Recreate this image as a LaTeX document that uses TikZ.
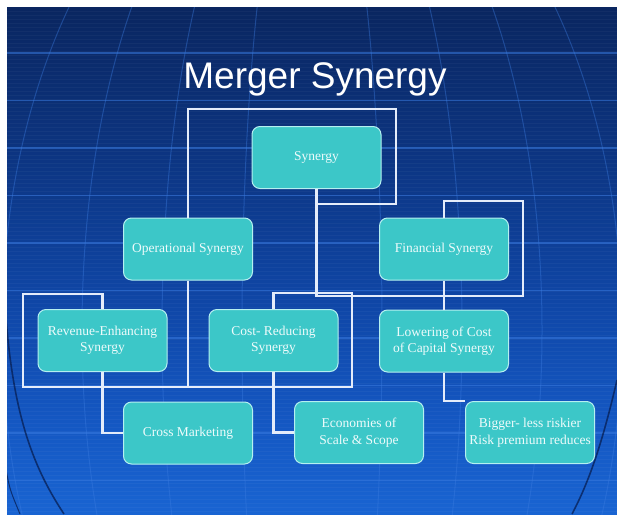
\documentclass[tikz,border=0pt]{standalone}
\usepackage{fontspec}
\setmainfont{Liberation Serif}
\newfontfamily\titlefont{Liberation Sans}

\definecolor{bgA}{HTML}{0A2660}
\definecolor{bgB}{HTML}{0C3480}
\definecolor{bgC}{HTML}{0F46A6}
\definecolor{bgD}{HTML}{1457C2}
\definecolor{bgE}{HTML}{1964D2}
\definecolor{gridcol}{HTML}{3A7BE0}
\definecolor{arccol}{HTML}{08225A}
\definecolor{boxfill}{HTML}{3CC7C8}
\definecolor{boxline}{HTML}{B5F0F0}
\definecolor{boxtext}{HTML}{EEFBFB}
\definecolor{linecol}{HTML}{E4ECFA}

% top of the backdrop at 75bp, bottom at 25bp
\pgfdeclareverticalshading{backdrop}{100bp}{%
  color(0bp)=(bgE); color(25bp)=(bgE); color(34.3bp)=(bgD);
  color(46.1bp)=(bgC); color(60.9bp)=(bgB); color(75bp)=(bgA); color(100bp)=(bgA)}

\tikzset{
  box/.style={draw=boxline, line width=1pt, fill=boxfill, rounded corners=8pt,
    minimum width=129pt, minimum height=62pt, inner sep=2pt, align=center,
    text=boxtext, font=\fontsize{13.5}{16.5}\selectfont},
  conn/.style={draw=linecol, line width=2.2pt},
  gridline/.style={draw=gridcol, line width=1.6pt, opacity=0.55},
  meridian/.style={draw=gridcol, line width=1pt, opacity=0.4},
  globearc/.style={draw=arccol, line width=1.6pt, opacity=0.8},
  titletext/.style={font=\titlefont\fontsize{37}{40}\selectfont, anchor=base, text=white},
}

\begin{document}
\begin{tikzpicture}[x=1pt,y=-1pt]
\useasboundingbox (0,0) rectangle (617,514);
\fill[white] (0,0) rectangle (617,514);

% backdrop: blue globe with grid
\begin{scope}
  \clip (7,7) rectangle (617,514);
  \shade[shading=backdrop] (7,7) rectangle (617,514);
  \foreach \y in {11,15,...,514}
    \draw[white, opacity=0.035, line width=0.8pt] (7,\y) -- (617,\y);
  \foreach \k in {0,...,9}
    \draw[gridline] (7,{53+47.5*\k}) -- (617,{53+47.5*\k});
  \foreach \a in {70,150,230,310,390,470,550}
    \draw[meridian] (312,330) ellipse [x radius=\a, y radius=520];
  \draw[globearc] (6,318) .. controls (14,420) and (35,470) .. (64,514);
  \draw[globearc, line width=1pt] (6,470) .. controls (10,490) .. (20,514);
  \draw[globearc] (617,380) .. controls (603,440) and (590,480) .. (572,514);
\end{scope}

% title
\node[titletext] (title) at (315,88) {Merger Synergy};

% boxes
\node[box] (syn)   at (316.5,157.5) {Synergy};
\node[box] (ops)   at (188,249)     {Operational Synergy};
\node[box] (fin)   at (444,249)     {Financial Synergy};
\node[box] (rev)   at (102.5,340.5) {Revenue-Enhancing\\Synergy};
\node[box] (cost)  at (273.5,340.5) {Cost- Reducing\\Synergy};
\node[box] (low)   at (444,341)     {Lowering of Cost\\of Capital Synergy};
\node[box] (cross) at (188,433)     {Cross Marketing};
\node[box] (econ)  at (359,432.5)   {Economies of\\Scale \& Scope};
\node[box] (big)   at (530,432.5)   {Bigger- less riskier\\Risk premium reduces};

% connectors
\draw[conn] (syn.south) |- (396,204) |- (ops.north |- 0,109) -- (ops.north);
\draw[conn] (syn.south) |- (523,296) |- (fin.north |- 0,201) -- (fin.north);
\draw[conn] (ops.south) |- (23,387) |- (rev.north |- 0,294) -- (rev.north);
\draw[conn] (ops.south) |- (352,387) |- (cost.north |- 0,293) -- (cost.north);
\draw[conn] (fin.south) -- (low.north);
\draw[conn] (rev.south) |- (cross.west);
\draw[conn] (cost.south) |- (econ.west);
\draw[conn] (low.south) |- (big.north west);
\end{tikzpicture}
\end{document}
